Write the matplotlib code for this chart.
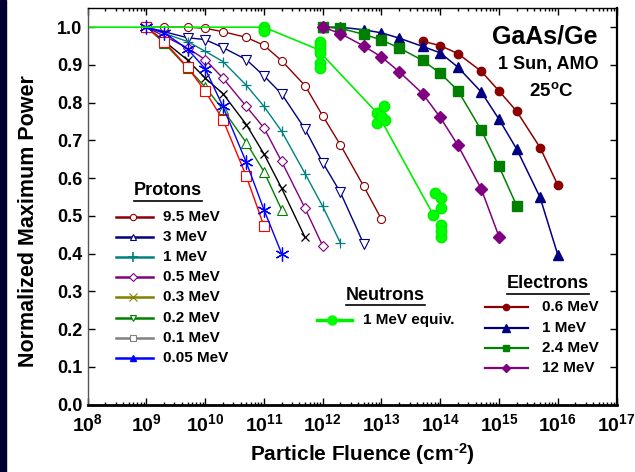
import matplotlib
matplotlib.use('Agg')
import matplotlib.pyplot as plt
from matplotlib.lines import Line2D
from matplotlib.patches import Rectangle
from matplotlib.ticker import LogLocator, FixedLocator, NullFormatter

plt.rcParams['font.family'] = ['Liberation Sans', 'DejaVu Sans']
plt.rcParams['font.weight'] = 'bold'
plt.rcParams['mathtext.fontset'] = 'custom'
plt.rcParams['mathtext.rm'] = 'Liberation Sans:bold'
plt.rcParams['mathtext.bf'] = 'Liberation Sans:bold'
plt.rcParams['mathtext.default'] = 'bf'

# protons (fluence in cm^-2, normalized Pmax)
p95_x = [1e9, 2e9, 5e9, 1e10, 2e10, 5e10, 1e11, 2e11, 5e11, 1e12, 2e12, 5e12, 1e13]
p95_y = [1.0, 1.0, 1.0, 0.997, 0.988, 0.973, 0.952, 0.911, 0.845, 0.765, 0.688, 0.578, 0.491]
p3_x = [1e9, 5e9, 1e10, 2e10, 5e10, 1e11, 2e11, 5e11, 1e12, 2e12, 5e12]
p3_y = [1.0, 0.972, 0.967, 0.946, 0.914, 0.871, 0.823, 0.73, 0.641, 0.562, 0.425]
p1_x = [1e9, 5e9, 1e10, 2e10, 5e10, 1e11, 2e11, 5e11, 1e12, 2e12]
p1_y = [1.0, 0.962, 0.936, 0.909, 0.846, 0.79, 0.724, 0.612, 0.525, 0.428]
p05_x = [1e9, 5e9, 1e10, 2e10, 5e10, 1e11, 2e11, 5e11, 1e12]
p05_y = [1.0, 0.945, 0.914, 0.865, 0.79, 0.733, 0.644, 0.52, 0.42]
p03_x = [1e9, 2e9, 5e9, 1e10, 2e10, 5e10, 1e11, 2e11, 5e11]
p03_y = [1.0, 0.963, 0.913, 0.865, 0.824, 0.742, 0.664, 0.573, 0.443]
p02_x = [1e9, 2e9, 5e9, 1e10, 2e10, 5e10, 1e11, 2e11]
p02_y = [1.0, 0.958, 0.892, 0.841, 0.782, 0.694, 0.617, 0.516]
p01_x = [1e9, 2e9, 5e9, 1e10, 2e10, 5e10, 1e11]
p01_y = [1.0, 0.962, 0.894, 0.83, 0.755, 0.605, 0.473]
p005_x = [1e9, 2e9, 5e9, 1e10, 2e10, 5e10, 1e11, 2e11]
p005_y = [1.0, 0.985, 0.942, 0.89, 0.79, 0.642, 0.516, 0.40]

# electrons
e06_x = [5e13, 1e14, 2e14, 5e14, 1e15, 2e15, 5e15, 1e16]
e06_y = [0.963, 0.951, 0.93, 0.883, 0.831, 0.777, 0.681, 0.582]
e1_x = [1e12, 2e12, 5e12, 1e13, 2e13, 5e13, 1e14, 2e14, 5e14, 1e15, 2e15, 5e15, 1e16]
e1_y = [1.0, 1.0, 0.993, 0.985, 0.971, 0.949, 0.932, 0.894, 0.828, 0.756, 0.677, 0.549, 0.397]
e24_x = [1e12, 2e12, 5e12, 1e13, 2e13, 5e13, 1e14, 2e14, 5e14, 1e15, 2e15]
e24_y = [1.0, 0.997, 0.981, 0.966, 0.945, 0.912, 0.878, 0.832, 0.727, 0.631, 0.527]
e12_x = [1e12, 2e12, 5e12, 1e13, 2e13, 5e13, 1e14, 2e14, 5e14, 1e15]
e12_y = [1.0, 0.983, 0.95, 0.921, 0.882, 0.824, 0.761, 0.687, 0.571, 0.445]

# neutrons, 1 MeV equivalent (scattered measurements + trend line)
n_x = [1e11, 1e11, 1e11, 9e11, 9e11, 9e11, 9e11, 9e11, 9e11,
       1.12e13, 8.5e12, 9.5e12, 8.5e12, 1.15e13, 1.0e13,
       8.1e13, 1.02e14, 1.05e14, 7.6e13, 1.05e14, 1.02e14, 1.03e14]
n_y = [1.0, 0.996, 0.99, 0.962, 0.952, 0.942, 0.932, 0.905, 0.893,
       0.79, 0.772, 0.759, 0.746, 0.755, 0.765,
       0.56, 0.547, 0.52, 0.503, 0.476, 0.445, 0.46]
n_line_x = [1e8, 1e11, 8e11, 8.5e12, 7.6e13]
n_line_y = [1.0, 1.0, 0.942, 0.772, 0.503]

W, H = 635, 472
fig = plt.figure(figsize=(W / 100, H / 100), dpi=100)
ax = fig.add_axes([87.7 / W, 1 - 404.5 / H, (616.5 - 87.7) / W, (404.5 - 8.3) / H])

open_kw = dict(mfc='white', mew=0.8)
ax.plot(p95_x, p95_y, color='#8b0000', lw=1.0, marker='o', ms=5.8, **open_kw)
ax.plot(p3_x, p3_y, color='#000080', lw=1.0, marker='v', ms=7.5, **open_kw)
ax.plot(p1_x, p1_y, color='#008080', lw=1.0, marker='+', ms=7, mew=0.9)
ax.plot(p05_x, p05_y, color='#800080', lw=1.0, marker='D', ms=5.5, **open_kw)
ax.plot(p03_x, p03_y, color='black', lw=1.0, marker='x', ms=6, mew=0.9)
ax.plot(p02_x, p02_y, color='#008000', lw=1.0, marker='^', ms=7.5, **open_kw)
ax.plot(p01_x, p01_y, color='#ff0000', lw=1.0, marker='s', ms=6.5, **open_kw)
ax.plot(p005_x, p005_y, color='#0000ff', lw=1.0, marker=(6, 2, 0), ms=10, mew=0.9)

ax.plot(e06_x, e06_y, color='#8b0000', lw=1.1, marker='o', ms=6)
ax.plot(e1_x, e1_y, color='#000080', lw=1.1, marker='^', ms=7.5)
ax.plot(e24_x, e24_y, color='#008000', lw=1.1, marker='s', ms=6.5)
ax.plot(e12_x, e12_y, color='#800080', lw=1.1, marker='D', ms=6)

ax.plot(n_line_x, n_line_y, color='#00ee00', lw=1.2)
ax.plot(n_x, n_y, ls='none', marker='o', ms=7.5, color='#00ff00', mec='#00ee00')

ax.set_xscale('log')
ax.set_xlim(1e8, 1e17)
ax.set_ylim(0, 1.05)
ax.xaxis.set_major_locator(FixedLocator([10.0 ** k for k in range(8, 18)]))
ax.xaxis.set_minor_locator(LogLocator(base=10, subs=range(2, 10), numticks=40))
ax.xaxis.set_minor_formatter(NullFormatter())
ax.set_xticklabels(['$10^{%d}$' % k for k in range(8, 18)])
ax.set_yticks([i / 10 for i in range(11)])
ax.set_yticklabels(['%.1f' % (i / 10) for i in range(11)])
ax.tick_params(axis='both', which='both', direction='in', top=True, right=True, width=1)
ax.tick_params(axis='both', which='major', length=5)
ax.tick_params(axis='both', which='minor', length=2.5)
ax.tick_params(axis='y', labelsize=13, pad=4)
ax.tick_params(axis='x', labelsize=14, pad=6)
ax.spines['left'].set_color('#555555')
ax.spines['left'].set_linewidth(1)
ax.spines['top'].set_linewidth(1)
ax.spines['right'].set_linewidth(1.6)
ax.spines['bottom'].set_linewidth(2)

fig.text(29 / W, 1 - 221.5 / H, 'Normalized Maximum Power', rotation=90,
         ha='center', va='center', fontsize=15.5, fontweight='bold')
fig.text(362 / W, 1 - 454 / H, r'Particle Fluence (cm$^{\text{-2}}$)',
         ha='center', va='center', fontsize=15, fontweight='bold')

fig.text(545 / W, 1 - 36 / H, 'GaAs/Ge', ha='center', va='center', fontsize=18, fontweight='bold')
fig.text(548 / W, 1 - 65 / H, '1 Sun, AMO', ha='center', va='center', fontsize=13, fontweight='bold')
fig.text(551 / W, 1 - 91 / H, '25$^{o}$C', ha='center', va='center', fontsize=13.5, fontweight='bold')

fig.patches.append(Rectangle((0, 0), 6 / W, 1, transform=fig.transFigure,
                             color='#000033', zorder=0))

fig.canvas.draw()
renderer = fig.canvas.get_renderer()


def legend_title(cx, cy, text):
    t = fig.text(cx / W, 1 - cy / H, text, ha='center', va='center', fontsize=13, fontweight='bold')
    bb = t.get_window_extent(renderer)
    yu = bb.y0 - 1.5
    fig.add_artist(Line2D([bb.x0 / W, bb.x1 / W], [yu / H, yu / H], color='black', lw=1.2))


def legend_row(x0, x1, xm, xt, y, label, color, lw, **mk):
    fig.add_artist(Line2D([x0 / W, x1 / W], [1 - y / H] * 2, color=color, lw=lw))
    fig.add_artist(Line2D([xm / W], [1 - y / H], color=color, ls='none', **mk))
    fig.text(xt / W, 1 - y / H, label, ha='left', va='center', fontsize=11, fontweight='bold')


legend_title(168, 191, 'Protons')
prot_rows = [
    ('9.5 MeV', '#8b0000', dict(marker='o', ms=4.5, mfc='white', mew=0.8)),
    ('3 MeV', '#000080', dict(marker='^', ms=5, mfc='white', mew=0.8)),
    ('1 MeV', '#008080', dict(marker='+', ms=7, mew=1.2)),
    ('0.5 MeV', '#800080', dict(marker='D', ms=4.5, mfc='white', mew=0.8)),
    ('0.3 MeV', '#808000', dict(marker='x', ms=5.5, mew=0.8)),
    ('0.2 MeV', '#008000', dict(marker='v', ms=5, mfc='white', mew=0.8)),
    ('0.1 MeV', '#808080', dict(marker='s', ms=4.5, mfc='white', mew=0.8)),
    ('0.05 MeV', '#0000ff', dict(marker='^', ms=5)),
]
for i, (lab, col, mk) in enumerate(prot_rows):
    legend_row(116, 152.7, 133.3, 163.3, 217 + 20.1 * i, lab, col, 1.8, **mk)

legend_title(385.5, 295, 'Neutrons')
legend_row(316.7, 352.3, 332.3, 363.3, 320, '1 MeV equiv.', '#00ee00', 2.5,
           marker='o', ms=6.5, mfc='#00ff00', mec='#00ff00')

legend_title(548, 284, 'Electrons')
elec_rows = [
    ('0.6 MeV', '#8b0000', dict(marker='o', ms=4.5)),
    ('1 MeV', '#000080', dict(marker='^', ms=5.5)),
    ('2.4 MeV', '#008000', dict(marker='s', ms=4.5)),
    ('12 MeV', '#800080', dict(marker='D', ms=4.5)),
]
for i, (lab, col, mk) in enumerate(elec_rows):
    legend_row(485, 528.3, 505.7, 541.7, 307.3 + 20.3 * i, lab, col, 1.6, **mk)

fig.savefig('out.png', dpi=100)
